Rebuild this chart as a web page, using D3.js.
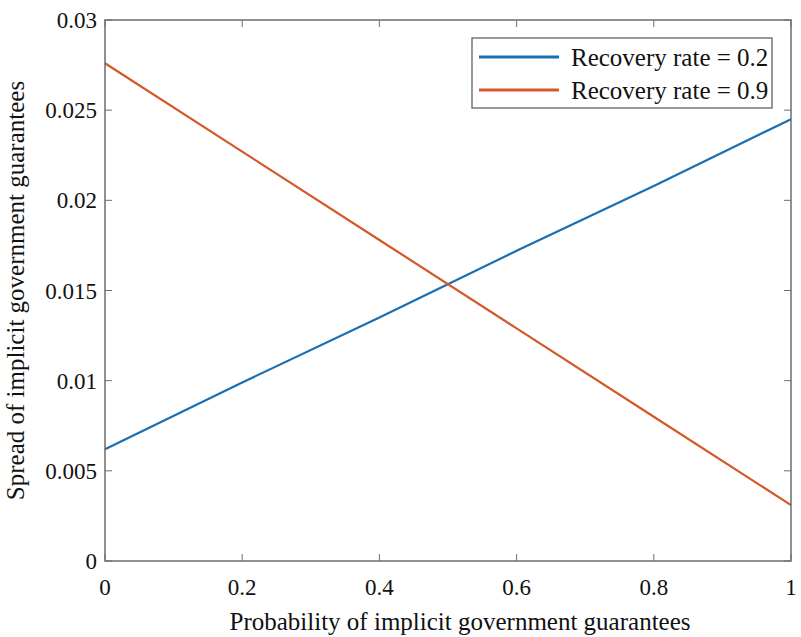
<!DOCTYPE html>
<meta charset="utf-8">
<style>
body { margin: 0; background: white; }
text { font-family: "Liberation Serif", "Times New Roman", serif; fill: #111; }
</style>
<body>
<script src="https://d3js.org/d3.v7.min.js"></script>
<script>
var probability = [0, 0.2, 0.4, 0.6, 0.8, 1];
var spreadLow = [0.0062, 0.0099, 0.0135, 0.0172, 0.0208, 0.0245];   // recovery rate 0.2
var spreadHigh = [0.0276, 0.0227, 0.0178, 0.0129, 0.0080, 0.0031];  // recovery rate 0.9
var seriesNames = ["Recovery rate = 0.2", "Recovery rate = 0.9"];
var seriesColors = ["#1a6fb3", "#d5582a"];
var xTicks = [0, 0.2, 0.4, 0.6, 0.8, 1];
var yTicks = [0, 0.005, 0.01, 0.015, 0.02, 0.025, 0.03];

var width = 801,
    height = 637;
// plot box (window.top is read-only, so no bare "top")
var pLeft = 105, pRight = 791, pTop = 20, pBottom = 561;

var svg = d3.select("body").append("svg")
    .attr("width", width)
    .attr("height", height);

var x = d3.scaleLinear().domain([0, 1]).range([pLeft, pRight]);
var y = d3.scaleLinear().domain([0, 0.03]).range([pBottom, pTop]);

var axisColor = "#6e6e6e";

// ticks, inward on all four sides
var g = svg.append("g");
g.selectAll(".yt").data(yTicks).enter().append("line")
    .attr("x1", pLeft).attr("x2", pLeft + 7)
    .attr("y1", d => y(d)).attr("y2", d => y(d))
    .attr("stroke", axisColor);
g.selectAll(".yt2").data(yTicks).enter().append("line")
    .attr("x1", pRight).attr("x2", pRight - 7)
    .attr("y1", d => y(d)).attr("y2", d => y(d))
    .attr("stroke", axisColor);
g.selectAll(".xt").data(xTicks).enter().append("line")
    .attr("x1", d => x(d)).attr("x2", d => x(d))
    .attr("y1", pBottom).attr("y2", pBottom - 7)
    .attr("stroke", axisColor);
g.selectAll(".xt2").data(xTicks).enter().append("line")
    .attr("x1", d => x(d)).attr("x2", d => x(d))
    .attr("y1", pTop).attr("y2", pTop + 7)
    .attr("stroke", axisColor);

// tick labels
g.selectAll(".yl").data(yTicks).enter().append("text")
    .attr("x", pLeft - 8)
    .attr("y", d => y(d))
    .attr("dy", "0.35em")
    .attr("text-anchor", "end")
    .attr("font-size", 23)
    .text(d => String(+d.toFixed(3)));
g.selectAll(".xl").data(xTicks).enter().append("text")
    .attr("x", d => x(d))
    .attr("y", pBottom + 34)
    .attr("text-anchor", "middle")
    .attr("font-size", 23)
    .text(d => String(d));

// lines
var line = d3.line()
    .x((d, i) => x(probability[i]))
    .y(d => y(d));

[spreadLow, spreadHigh].forEach(function(s, i) {
  svg.append("path")
      .datum(s)
      .attr("d", line)
      .attr("fill", "none")
      .attr("stroke", seriesColors[i])
      .attr("stroke-width", 2.2);
});

// box
svg.append("rect")
    .attr("x", pLeft).attr("y", pTop)
    .attr("width", pRight - pLeft).attr("height", pBottom - pTop)
    .attr("fill", "none")
    .attr("stroke", axisColor)
    .attr("stroke-width", 1.5);

// axis titles
svg.append("text")
    .attr("x", (pLeft + pRight) / 2 + 12)
    .attr("y", 630)
    .attr("text-anchor", "middle")
    .attr("font-size", 25)
    .text("Probability of implicit government guarantees");

svg.append("text")
    .attr("transform", "translate(24," + ((pTop + pBottom) / 2) + ") rotate(-90)")
    .attr("text-anchor", "middle")
    .attr("font-size", 25)
    .text("Spread of implicit government guarantees");

// legend
var lg = svg.append("g");
lg.append("rect")
    .attr("x", 472).attr("y", 38)
    .attr("width", 300).attr("height", 70)
    .attr("fill", "white")
    .attr("stroke", "#555")
    .attr("stroke-width", 1.2);
seriesNames.forEach(function(name, i) {
  var yy = 57 + i * 33;
  lg.append("line")
      .attr("x1", 479).attr("x2", 559)
      .attr("y1", yy).attr("y2", yy)
      .attr("stroke", seriesColors[i])
      .attr("stroke-width", 3);
  lg.append("text")
      .attr("x", 571)
      .attr("y", yy)
      .attr("dy", "0.35em")
      .attr("font-size", 25)
      .text(name);
});
</script>
</body>
</html>
